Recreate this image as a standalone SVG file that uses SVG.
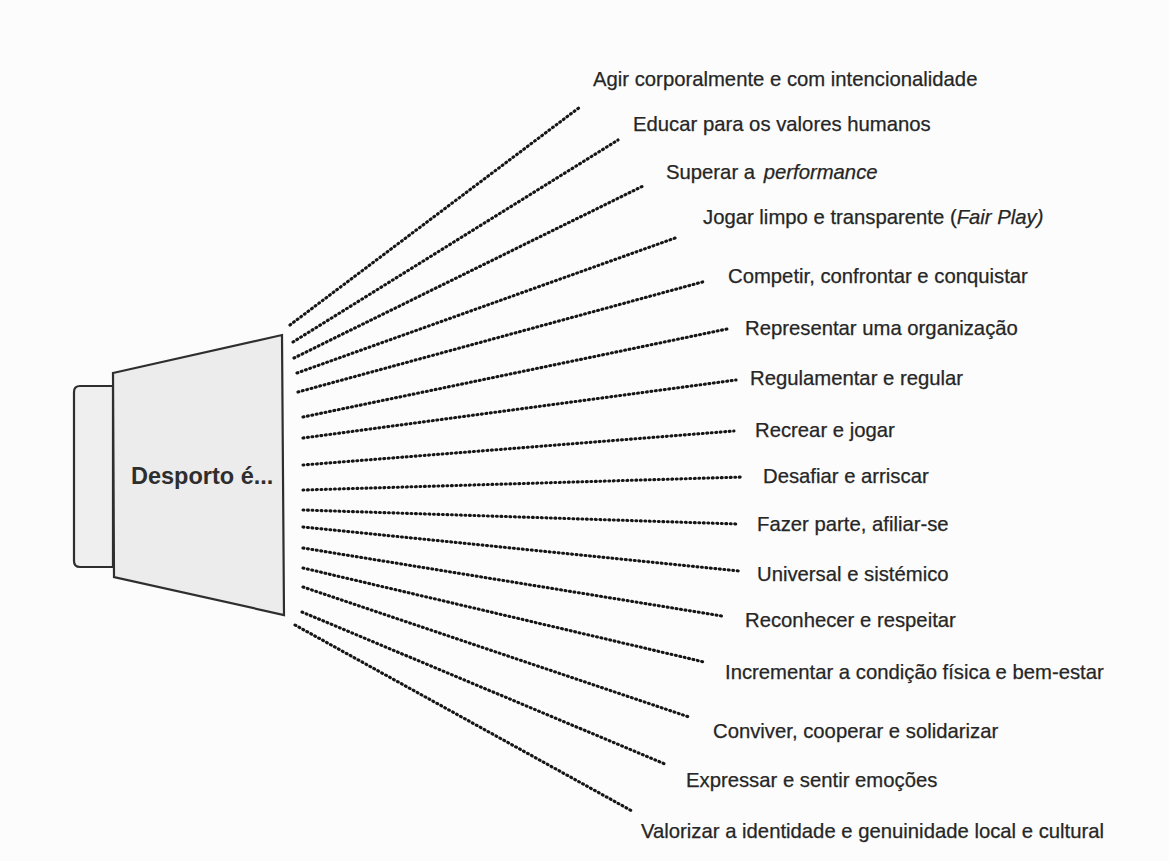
<svg xmlns="http://www.w3.org/2000/svg" width="1169" height="861" viewBox="0 0 1169 861">
<style>
.lbl{font-family:"Liberation Sans",Arial,sans-serif;font-size:20.3px;fill:#262626;stroke:#262626;stroke-width:0.25}
.it{font-style:italic}
.dot{fill:none;stroke:#161616;stroke-width:3.1;stroke-linecap:round;stroke-dasharray:0.9 3.6}
.shape{stroke:#2e2e2e;stroke-width:2.2;stroke-linejoin:miter}
</style>
<rect x="0" y="0" width="1169" height="861" fill="#fcfcfc"/>
<g id="megaphone">
<path class="shape" d="M113,386 L80,386 Q74,386 74,392 L74,561 Q74,567 80,567 L113,567 Z" fill="#efefef"/>
<path class="shape" d="M113,373 L282,335 L284,615 L114,577 Z" fill="#ececec"/>
<text x="131" y="484" style="font-family:'Liberation Sans',Arial,sans-serif;font-size:23.5px;font-weight:bold;fill:#2e2e2e">Desporto é...</text>
</g>
<g id="connectors">
<line class="dot" x1="290" y1="325" x2="580" y2="107"/>
<line class="dot" x1="293" y1="342" x2="618" y2="140"/>
<line class="dot" x1="294" y1="358" x2="643" y2="186"/>
<line class="dot" x1="297" y1="373" x2="678" y2="237"/>
<line class="dot" x1="298" y1="392" x2="706" y2="281"/>
<line class="dot" x1="303" y1="417" x2="727" y2="329"/>
<line class="dot" x1="303" y1="438" x2="736" y2="380"/>
<line class="dot" x1="303" y1="465" x2="734" y2="431"/>
<line class="dot" x1="303" y1="490" x2="743" y2="477"/>
<line class="dot" x1="303" y1="510" x2="738" y2="524"/>
<line class="dot" x1="303" y1="527" x2="739" y2="571"/>
<line class="dot" x1="303" y1="548" x2="722" y2="616"/>
<line class="dot" x1="303" y1="568" x2="704" y2="662"/>
<line class="dot" x1="303" y1="587" x2="689" y2="717"/>
<line class="dot" x1="302" y1="612" x2="665" y2="764"/>
<line class="dot" x1="295" y1="625" x2="632" y2="811"/>
</g>
<g id="n1"><text class="lbl" x="593" y="86">Agir corporalmente e com intencionalidade</text></g>
<g id="n2"><text class="lbl" x="633" y="131">Educar para os valores humanos</text></g>
<g id="n3"><text class="lbl" x="666" y="179">Superar a <tspan class="it" dx="3">performance</tspan></text></g>
<g id="n4"><text class="lbl" x="703" y="224">Jogar limpo e transparente (<tspan class="it">Fair Play)</tspan></text></g>
<g id="n5"><text class="lbl" x="728" y="283">Competir, confrontar e conquistar</text></g>
<g id="n6"><text class="lbl" x="745" y="335">Representar uma organização</text></g>
<g id="n7"><text class="lbl" x="750" y="385">Regulamentar e regular</text></g>
<g id="n8"><text class="lbl" x="755" y="437">Recrear e jogar</text></g>
<g id="n9"><text class="lbl" x="763" y="483">Desafiar e arriscar</text></g>
<g id="n10"><text class="lbl" x="757" y="531">Fazer parte, afiliar-se</text></g>
<g id="n11"><text class="lbl" x="757" y="581">Universal e sistémico</text></g>
<g id="n12"><text class="lbl" x="745" y="627">Reconhecer e respeitar</text></g>
<g id="n13"><text class="lbl" x="725" y="679">Incrementar a condição física e bem-estar</text></g>
<g id="n14"><text class="lbl" x="713" y="738">Conviver, cooperar e solidarizar</text></g>
<g id="n15"><text class="lbl" x="686" y="787">Expressar e sentir emoções</text></g>
<g id="n16"><text class="lbl" x="641" y="838">Valorizar a identidade e genuinidade local e cultural</text></g>
</svg>
